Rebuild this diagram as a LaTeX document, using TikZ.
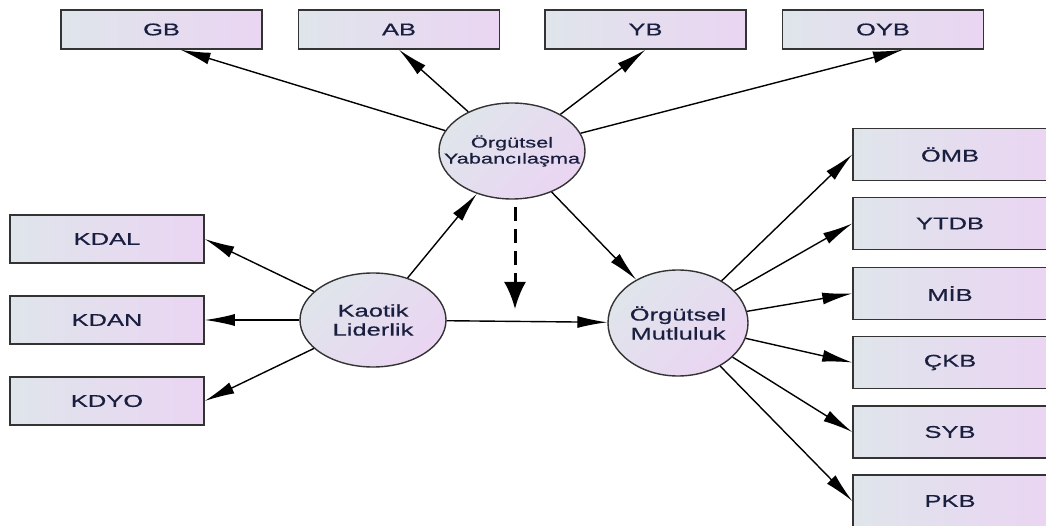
\documentclass[tikz,border=0pt]{standalone}
\usepackage{fontspec}
\setmainfont[FakeStretch=1.5, FakeBold=0.6]{Liberation Sans}
\usetikzlibrary{arrows.meta, shapes.geometric, calc}

\definecolor{boxl}{HTML}{DFE5EB}
\definecolor{boxr}{HTML}{EAD5F2}
\definecolor{ink}{HTML}{1A1F40}

\begin{document}
\begin{tikzpicture}[x=1pt, y=-1pt,
    obs/.style={draw=black!80, line width=1.5pt, left color=boxl, right color=boxr,
      text=ink, font=\fontsize{17}{19}\selectfont},
    topobs/.style={obs, minimum width=201pt, minimum height=39pt},
    sideobs/.style={obs, minimum width=194pt, minimum height=48pt},
    rightobs/.style={obs, minimum width=194pt, minimum height=52pt},
    lat/.style={ellipse, draw=black!80, line width=1.4pt, top color=boxl,
      bottom color=boxr, shading angle=45, inner sep=0pt},
    arr/.style={-{Latex[length=30pt,width=12pt]}, line width=1.4pt}]
  \useasboundingbox (0,0) rectangle (1046,526);

  % Latent variables.
  \node[lat, minimum width=146pt, minimum height=96pt,
    label={[align=center, text=ink, font=\fontsize{14.5}{16}\selectfont]center:Örgütsel\\Yabancılaşma}]
    (yab) at (512,151) {};
  \node[lat, minimum width=146pt, minimum height=94pt,
    label={[align=center, text=ink, font=\fontsize{17}{19}\selectfont]center:Kaotik\\Liderlik}]
    (kao) at (373,320) {};
  \node[lat, minimum width=140pt, minimum height=106pt,
    label={[align=center, text=ink, font=\fontsize{17}{19}\selectfont]center:Örgütsel\\Mutluluk}]
    (mut) at (678,323) {};

  % Indicators of Örgütsel Yabancılaşma.
  \node[topobs] (gb) at (161.5,29.5) {GB};
  \node[topobs] (ab) at (399,29.5) {AB};
  \node[topobs] (yb) at (645.5,29.5) {YB};
  \node[topobs] (oyb) at (883,29.5) {OYB};

  % Indicators of Kaotik Liderlik.
  \node[sideobs] (kdal) at (107,239) {KDAL};
  \node[sideobs] (kdan) at (107,320) {KDAN};
  \node[sideobs] (kdyo) at (107,401) {KDYO};

  % Indicators of Örgütsel Mutluluk.
  \node[rightobs] (omb) at (950,154.5) {ÖMB};
  \node[rightobs] (ytdb) at (950,223.5) {YTDB};
  \node[rightobs] (mib) at (950,293.5) {MİB};
  \node[rightobs] (ckb) at (950,362.5) {ÇKB};
  \node[rightobs] (syb) at (950,432) {SYB};
  \node[rightobs] (pkb) at (950,501) {PKB};

  \draw[arr] (yab) -- ([xshift=19pt]gb.south);
  \draw[arr] (yab) -- (ab.south);
  \draw[arr] (yab) -- (yb.south);
  \draw[arr] (yab) -- ([xshift=20pt]oyb.south);

  \draw[arr] (kao) -- (kdal.east);
  \draw[arr] (kao) -- (kdan.east);
  \draw[arr] (kao) -- (kdyo.east);

  \draw[arr] (mut) -- (omb.west);
  \draw[arr] (mut) -- (ytdb.west);
  \draw[arr] (mut) -- (mib.west);
  \draw[arr] (mut) -- (ckb.west);
  \draw[arr] (mut) -- (syb.west);
  \draw[arr] (mut) -- (pkb.west);

  % Structural paths.
  \draw[arr] (kao) -- (yab);
  \draw[arr] (yab) -- (mut);
  \draw[arr] (kao) -- (mut);

  % Mediation (dashed).
  \coordinate (medtop) at (515,207);
  \coordinate (medbot) at (515,309);
  \draw[-{Latex[length=27pt,width=22pt]}, line width=3pt,
    dash pattern=on 14pt off 8pt] (medtop) -- (medbot);
\end{tikzpicture}
\end{document}
